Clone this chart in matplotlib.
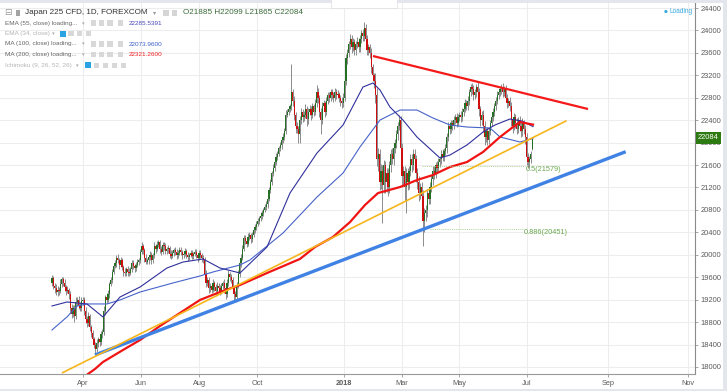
import numpy as np
import matplotlib
matplotlib.use("Agg")
import matplotlib.pyplot as plt
from matplotlib.patches import Rectangle

plt.rcParams['font.family'] = ['Liberation Sans', 'DejaVu Sans']

# ---------------- data ----------------
closes = [
    19580,19450,19400,19330,19380,19360,19480,19560,19500,19420,19350,19380,19300,19050,18950,19050,18900,19150,19200,19100,
    19050,19180,19200,19000,18850,18780,18900,18720,18600,18500,18400,18320,18420,18500,18450,18580,18620,19000,19250,19200,
    19300,19480,19550,19700,19800,19850,19950,19900,19820,19900,19780,19700,19680,19750,19700,19680,19750,19850,19800,19760,
    19820,19870,19900,20050,20150,20080,19950,19880,19900,19960,20000,19900,20000,20150,20100,20180,20220,20100,20050,20180,
    20150,20060,20100,20120,20020,19980,20030,20080,20050,20000,20040,20080,20050,19990,20020,20060,20000,19960,20000,20030,
    19980,20010,20050,20000,19950,20030,20000,19950,19900,19650,19500,19550,19400,19450,19380,19500,19420,19350,19450,19400,
    19350,19450,19500,19400,19300,19500,19650,19600,19550,19400,19300,19250,19450,19650,19850,19950,20100,20300,20250,20200,
    20320,20350,20280,20350,20450,20500,20550,20600,20650,20700,20750,20800,20850,20900,21000,21150,21300,21450,21550,21650,
    21750,21800,21900,21950,22050,22100,22200,22500,22550,22600,22650,22900,22750,22500,22300,22250,22150,22400,22550,22450,
    22500,22600,22420,22550,22600,22500,22650,22550,22700,22900,22800,22550,22400,22650,22700,22550,22750,22850,22800,22900,
    22850,22800,22900,22850,22870,22800,22750,22700,22800,23100,23500,23600,23750,23850,23700,23800,23650,23750,23800,23700,
    23850,23950,23900,24050,23850,23650,23700,23600,23350,23200,23100,22850,21700,21800,21300,21500,21250,21600,21300,21450,
    21200,21600,21800,21700,21900,22000,22150,22300,22400,21900,21400,21500,21200,21450,21300,21500,21700,21600,21800,21700,
    21450,21300,21100,21200,21050,20600,20750,20800,21100,21000,21200,21350,21500,21450,21600,21550,21650,21700,21800,21750,
    21850,21900,22100,22300,22250,22350,22300,22400,22450,22350,22450,22500,22450,22550,22600,22700,22650,22750,22900,23000,
    22950,22850,22900,23000,22900,22600,22400,22500,22300,22100,22200,22050,22200,22350,22450,22550,22650,22750,22850,22900,
    22950,23000,22900,22950,22800,22700,22750,22650,22400,22300,22450,22350,22250,22400,22300,22200,22350,22250,22100,21750,
    21650,21700,21800,22084]

up_wick = [
    60,50,40,80,60,50,90,40,50,60,40,70,30,60,80,50,60,90,40,60,
    50,70,40,40,60,50,80,40,30,50,40,50,70,40,60,60,50,80,40,60,
    70,40,60,50,40,60,50,70,40,60,50,40,60,40,50,70,40,60,50,40,
    60,50,40,60,80,50,40,60,50,40,60,50,40,80,50,60,40,50,60,40,
    50,60,40,50,40,60,50,40,60,50,40,50,60,40,50,60,40,50,40,60,
    50,40,60,50,40,50,60,40,50,60,70,50,60,40,50,60,40,50,60,40,
    60,50,40,60,50,60,80,40,60,50,40,50,60,70,40,60,80,60,50,40,
    60,50,40,60,50,40,60,50,40,60,50,40,60,50,40,60,50,40,60,50,
    60,50,40,60,50,80,60,90,50,60,40,500,60,80,50,60,40,70,60,50,
    60,80,50,60,70,50,60,40,80,120,70,50,60,80,60,50,70,60,50,60,
    50,60,70,50,60,40,50,60,80,60,80,70,60,80,60,70,50,60,80,60,
    70,60,80,100,60,70,60,50,80,60,50,150,120,100,80,120,100,90,80,100,
    100,80,90,100,80,70,80,60,100,80,100,90,80,100,90,80,100,90,80,90,
    80,90,100,80,90,100,80,90,70,80,90,70,80,90,60,70,80,60,70,80,
    60,70,80,60,70,60,50,70,60,70,60,50,70,60,50,70,60,80,60,50,
    60,70,60,50,80,70,60,70,80,90,60,70,60,50,60,70,50,60,70,60,
    50,50,70,60,70,60,50,70,80,60,70,60,80,60,70,60,80,60,70,80,
    70,60,50,15]

down_wick = [
    50,60,80,40,60,70,40,60,50,70,60,40,80,90,70,60,100,50,60,70,
    60,50,70,80,60,70,50,80,70,60,70,90,50,60,70,50,60,50,70,60,
    50,70,40,60,50,40,60,50,70,40,60,70,50,60,70,50,40,60,50,70,
    50,40,60,50,40,60,70,50,40,60,50,70,40,50,60,40,50,70,60,40,
    60,50,40,60,70,50,40,50,60,70,50,40,60,70,50,40,60,70,50,40,
    60,50,40,60,70,50,60,70,50,80,70,60,80,60,70,50,60,80,50,60,
    70,50,60,80,90,60,50,70,60,80,100,100,60,50,40,60,50,40,60,70,
    50,60,70,50,40,60,50,40,50,40,60,50,40,50,60,40,50,60,40,50,
    50,60,40,50,60,50,60,40,50,60,50,70,90,100,120,80,150,160,70,80,
    60,70,120,80,60,90,70,80,60,70,90,100,250,70,80,90,60,70,80,60,
    70,80,60,70,60,80,90,80,70,60,80,90,70,80,100,70,90,80,70,90,
    80,70,90,80,100,90,80,90,100,110,120,150,120,200,150,120,680,150,200,180,
    150,100,120,90,100,80,90,100,80,150,200,150,250,450,150,120,100,120,90,100,
    150,120,150,100,150,450,200,150,120,100,90,80,100,90,80,100,70,90,80,70,
    80,70,90,80,100,70,80,60,70,80,60,70,80,60,70,60,70,60,80,70,
    80,90,70,80,100,120,100,90,110,150,90,100,80,70,60,70,80,60,70,80,
    70,80,90,70,80,90,70,80,100,120,80,90,100,80,90,100,80,90,120,150,
    100,80,70,20]

first_open = 19500
last_open = 21885

# moving averages (bar index, value)
ema55_idx = [0,10.7,25,36.4,48.6,62.9,82.1,93.6,107.9,120,134.3,153.6,170,189.3,207.9,222.1,229.3,234.3,
             241.4,250.7,260.7,277.1,284.3,296.4,307.9,316.4,327.1,335.7,343.6]
ema55_val = [19087,19158,19123,18891,19247,19425,19764,19871,19925,19764,19675,20139,21101,21815,22314,22991,23063,22938,
             22635,22403,22100,21726,21779,21957,22189,22314,22421,22385,22286]
ma100_idx = [0,10.7,17.9,25,39.3,48.6,62.9,86.4,105.7,115,134.3,141.4,165,189.3,207.9,220,234.3,248.6,260.7,
             272.1,284.3,296.4,312.9,320,334.3,343.6]
ma100_val = [18659,18891,19087,19123,19123,19194,19336,19497,19622,19693,19818,19907,20388,21030,21458,21922,22403,22581,22581,
             22439,22314,22278,22260,22100,22011,22074]
ma200_idx = [25.7,30.7,36.4,50.7,62.9,77.1,91.4,105.7,120,134.3,153.6,177.1,187.9,200.7,212.9,223.6,232.9,248.6,
             260.7,272.1,284.3,296.4,307.9,320,329.3,334.3,343.6]
ma200_val = [17874,17963,18088,18302,18480,18730,18962,19194,19336,19461,19675,19925,20139,20317,20584,20888,21101,21208,
             21333,21422,21565,21654,21833,22100,22278,22367,22321]

# trend lines (bar index, price)
support_idx = [30.7, 409.8]
support_val = [18213, 21838]
rising_idx = [7.1, 367.6]
rising_val = [17892, 22391]
resist_idx = [229.3, 382.9]
resist_val = [23544, 22599]

# fibonacci levels
fib_names = ['0.5', '0.886']
fib_values = [21579, 20451]
fib_from = [264.3, 270.0]
fib_to = [337.9, 336.4]

y_ticks = list(range(18000, 24401, 400))
month_labels = ['Apr', 'Jun', 'Aug', 'Oct', '2018', 'Mar', 'May', 'Jul', 'Sep', 'Nov']
month_pos = [22.1, 63.6, 105.0, 146.4, 208.6, 250.0, 290.7, 339.3, 397.1, 454.3]

# ---------------- figure ----------------
W, H = 727, 391
fig = plt.figure(figsize=(W / 100, H / 100), dpi=100)
fig.patch.set_facecolor('white')
ax = fig.add_axes([0, 17 / H, 695 / W, 374 / H])
ax.set_facecolor('white')

n = len(closes)
idx = np.arange(n)
c = np.array(closes, dtype=float)
o = np.concatenate([[first_open], c[:-1]])
o[-1] = last_open
hi = np.maximum(o, c) + np.array(up_wick)
lo = np.minimum(o, c) - np.array(down_wick)
up = c >= o
body_bot = np.minimum(o, c)
body_h = np.maximum(np.abs(c - o), 12)

ax.vlines(idx, lo, hi, color='#8c8c8c', lw=0.7, zorder=2)
ax.bar(idx[up], body_h[up], bottom=body_bot[up], width=0.85, color='#236f23', lw=0, zorder=3)
ax.bar(idx[~up], body_h[~up], bottom=body_bot[~up], width=0.85, color='#cf0f0f', lw=0, zorder=3)

ax.plot(ma100_idx, ma100_val, color='#4763c9', lw=0.8, zorder=4, solid_joinstyle='round')
ax.plot(ema55_idx, ema55_val, color='#30309c', lw=0.8, zorder=4, solid_joinstyle='round')
ax.plot(ma200_idx, ma200_val, color='#f01414', lw=1.6, zorder=4, solid_joinstyle='round')

ax.plot(support_idx, support_val, color='#3f82e4', lw=2.4, solid_capstyle='butt', zorder=5)
ax.plot(rising_idx, rising_val, color='#f7b51c', lw=1.2, solid_capstyle='butt', zorder=5)
ax.plot(resist_idx, resist_val, color='#f51a1a', lw=1.6, solid_capstyle='butt', zorder=5)

for name, v, a, b in zip(fib_names, fib_values, fib_from, fib_to):
    ax.plot([a, b], [v, v], color='#a9d08e', lw=0.7, ls=(0, (1, 1.2)), zorder=4)
    ax.text(b + 0.8, v, f'{name}({v})', color='#6aa84f', fontsize=5.3, ha='left', va='top', zorder=6)

ax.set_xlim(-37.14, 459.3)
ax.set_ylim(17874, 24543)

ax.set_xticks(month_pos)
ax.set_xticklabels(month_labels)
for lab in ax.get_xticklabels():
    if lab.get_text() == '2018':
        lab.set_fontweight('bold')
ax.set_yticks(y_ticks)
ax.set_yticklabels([str(v) for v in y_ticks])
ax.yaxis.tick_right()
ax.grid(True, color='#ededed', lw=0.8, zorder=0)
ax.set_axisbelow(True)
ax.tick_params(axis='y', length=2.5, width=0.6, pad=1.5, labelsize=5.4, colors='#5a5a5a')
ax.tick_params(axis='y', color='#999999')
ax.tick_params(axis='x', length=2, width=0.6, pad=2.5, labelsize=5.3, colors='#5a5a5a')
ax.tick_params(axis='x', color='#999999')
for s in ['top', 'left']:
    ax.spines[s].set_visible(False)
ax.spines['right'].set_color('#8a8a8a')
ax.spines['right'].set_linewidth(0.8)
ax.spines['bottom'].set_color('#9a9a9a')
ax.spines['bottom'].set_linewidth(0.8)

# last price tag
ax.annotate(f'{closes[-1]}', xy=(1, closes[-1]), xycoords=('axes fraction', 'data'),
            xytext=(2.2, 0), textcoords='offset points', ha='left', va='center',
            color='white', fontsize=5.4, annotation_clip=False,
            bbox=dict(boxstyle='square,pad=0.32', fc='#2e7a12', ec='none'), zorder=10)

# ---------------- UI decorations ----------------
def fx(x):
    return x / W

def fy(y):
    return 1 - y / H

def rect(x, y, w, h, color, ec='none', lw=0.6):
    fig.patches.append(Rectangle((fx(x), fy(y + h)), w / W, h / H, transform=fig.transFigure,
                                 fc=color, ec=ec, lw=lw, zorder=20))

rect(0, 0, W, 2.5, '#e3e6ec')
rect(723, 0, 4, H, '#e3e6ec')
rect(0, 388.5, W, 2.5, '#e3e6ec')

# header row
fig.text(fx(4.5), fy(12.7), '\u229f', fontsize=6.5, color='#9a9a9a', va='center', ha='left', family='DejaVu Sans')
rect(16, 9.7, 3.6, 6, '#a3a3a3')
fig.text(fx(25), fy(12.7), 'Japan 225 CFD, 1D, FOREXCOM', fontsize=5.9, color='#333333', va='center', ha='left')
fig.text(fx(152.5), fy(12.7), '\u25be', fontsize=4.5, color='#999999', va='center', ha='left', family='DejaVu Sans')
for x in [163, 171.5]:
    rect(x, 9.9, 5.7, 5.7, '#d5d5d5')
fig.text(fx(183), fy(12.7), 'O21885 H22099 L21865 C22084', fontsize=5.9, color='#3a6b3a', va='center', ha='left')

rows = [
    (23.3, 'EMA (55, close) loading...', '#666666', '22285.5391', '#4747b8', 81.5, None, [90.7, 99, 107.3, 117.7]),
    (33.7, 'EMA (34, close)', '#b5b5b5', None, None, 51.5, 60, [68.3, 76.7, 85.7]),
    (44.0, 'MA (100, close) loading...', '#666666', '22073.9600', '#3d5fc6', 81.5, None, [90.7, 99, 107.3, 117.7]),
    (54.3, 'MA (200, close) loading...', '#666666', '22321.2600', '#f02020', 81.5, None, [90.7, 99, 107.3, 117.7]),
    (65.3, 'Ichimoku (9, 26, 52, 26)', '#b5b5b5', None, None, 76, 85.3, [94, 102.7, 112, 121]),
]
for y, label, col, val, vcol, arrow_x, blue_x, icons in rows:
    fig.text(fx(5), fy(y), label, fontsize=4.6, color=col, va='center', ha='left')
    fig.text(fx(arrow_x), fy(y), '\u25be', fontsize=3.8, color='#aaaaaa', va='center', ha='left', family='DejaVu Sans')
    if blue_x is not None:
        rect(blue_x, y - 2.8, 5.6, 5.6, '#2aa3e3')
    for x in icons:
        rect(x, y - 2.8, 5.4, 5.4, '#d8d8d8')
    if val is not None:
        fig.text(fx(128.3), fy(y), val, fontsize=4.6, color=vcol, va='center', ha='left')

# exit full screen hint
rect(331, -1, 66, 9, 'white', ec='#dddddd', lw=0.5)
fig.text(fx(364), fy(4.2), 'Exit Full Screen (ESC)', fontsize=4.3, color='#9a9a9a', va='center', ha='center')

# loading indicator
fig.text(fx(664), fy(11.7), '\u25cf', fontsize=3.2, color='#33a8e0', va='center', ha='left', family='DejaVu Sans')
fig.text(fx(669), fy(11.7), 'Loading', fontsize=4.7, color='#33a8e0', va='center', ha='left')

fig.savefig('out.png', dpi=100, facecolor='white')
